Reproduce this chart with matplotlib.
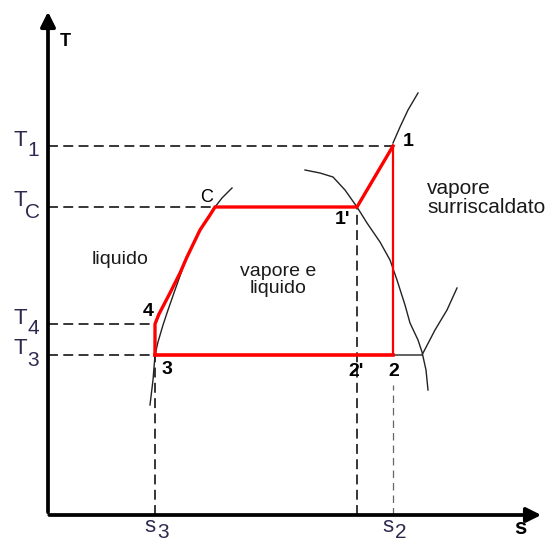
import matplotlib.pyplot as plt
import numpy as np

plt.rcParams['font.family'] = ['Liberation Sans', 'DejaVu Sans']

# state levels on the T-s plane (arbitrary units)
T1, TC, T4, T3 = 369, 308, 191, 160
s3, sC, s1p, s2 = 107, 167, 309, 345

# liquid heating from 4 up to C
heat_s = [107, 111, 122, 132, 139, 152, 162, 167]
heat_T = [191, 201, 222, 242, 258, 285, 300, 308]

# saturated liquid line
liq_s = [102, 105, 107, 110, 115, 120, 127, 137, 147, 157, 167, 174, 184]
liq_T = [110, 135, 160, 173, 190, 205, 225, 253, 275, 293, 308, 317, 327]

# saturated vapour line
vap_s = [257, 272, 285, 297, 309, 319, 332, 342, 349, 357, 362, 370, 374, 378, 380]
vap_T = [345, 342, 338, 325, 308, 292, 273, 255, 235, 210, 192, 175, 163, 145, 125]

# isobars in the superheated region
hi_s = [345, 352, 360, 370]
hi_T = [372, 388, 405, 422]
lo_s = [345, 374, 387, 399, 409]
lo_T = [160, 160, 185, 205, 227]

fig = plt.figure(figsize=(5.45, 5.42), dpi=100)
ax = fig.add_axes([0, 0, 1, 1])
ax.set_xlim(-48, 497)
ax.set_ylim(-27, 515)
ax.axis('off')

# axes with arrows
ax.annotate('', xy=(0, 506), xytext=(0, 0), annotation_clip=False,
            arrowprops=dict(arrowstyle='-|>', lw=2.7, color='black', mutation_scale=22))
ax.annotate('', xy=(496, 0), xytext=(-1.5, 0), annotation_clip=False,
            arrowprops=dict(arrowstyle='-|>', lw=2.7, color='black', mutation_scale=22))

# dashed reference lines
dash = dict(color='black', lw=1.1, dashes=(6.5, 3.5))
ax.plot([0, s2], [T1, T1], **dash)
ax.plot([0, sC], [TC, TC], **dash)
ax.plot([0, s3], [T4, T4], **dash)
ax.plot([0, s3], [T3, T3], **dash)
ax.plot([s3, s3], [0, T3], **dash)
ax.plot([s1p, s1p], [0, TC], **dash)
ax.plot([s2, s2], [0, 130], color='#666666', lw=0.9, dashes=(6, 4))

# saturation dome and isobars
thin = dict(color='#222222', lw=1.0)
ax.plot(liq_s, liq_T, **thin)
ax.plot(vap_s, vap_T, **thin)
ax.plot(hi_s, hi_T, **thin)
ax.plot(lo_s, lo_T, **thin)

# cycle
red = '#ff0000'
ax.plot([s3, s3] + heat_s + [s1p, s2], [T3, T4] + heat_T + [TC, T1],
        color=red, lw=2.4, solid_joinstyle='miter')
ax.plot([s2, s2], [T1, T3], color=red, lw=1.6)
ax.plot([s2, s3], [T3, T3], color=red, lw=2.6)

# axis labels
ax.text(17, 473, 'T', fontsize=13, fontweight='bold', ha='center', va='center')
ax.text(472, -14, 's', fontsize=16, fontweight='bold', ha='center', va='center')

lab = '#2d2a50'
for T, sub in [(T1, '1'), (TC, 'C'), (T4, '4'), (T3, '3')]:
    ax.text(-28, T + 6, 'T', fontsize=16, color=lab, ha='center', va='center')
    ax.text(-15, T - 5, sub, fontsize=15, color=lab, ha='center', va='center')
for s, sub in [(s3, '3'), (s2, '2')]:
    ax.text(s - 5, -11, 's', fontsize=16, color=lab, ha='center', va='center')
    ax.text(s + 8, -17, sub, fontsize=15, color=lab, ha='center', va='center')

# state points
pt = dict(fontsize=14, fontweight='bold', ha='center', va='center')
ax.text(s2 + 15, T1 + 5, '1', **pt)
ax.text(s1p - 14, TC - 13, "1'", **pt)
ax.text(s1p - 1, T3 - 17, "2'", **pt)
ax.text(s2 + 1, T3 - 17, '2', **pt)
ax.text(s3 + 12, T3 - 15, '3', **pt)
ax.text(s3 - 7, T4 + 12, '4', **pt)
ax.text(sC - 8, TC + 10, 'C', fontsize=13, ha='center', va='center')

# regions
txt = '#1a1a1a'
ax.text(72, 256, 'liquido', fontsize=14, color=txt, ha='center', va='center')
ax.text(230, 235, 'vapore e\nliquido', fontsize=14, color=txt, ha='center',
        va='center', linespacing=1.05)
ax.text(379, 317, 'vapore\nsurriscaldato', fontsize=15, color=txt, ha='left',
        va='center', linespacing=1.0)

fig.savefig('out.png', dpi=100)
